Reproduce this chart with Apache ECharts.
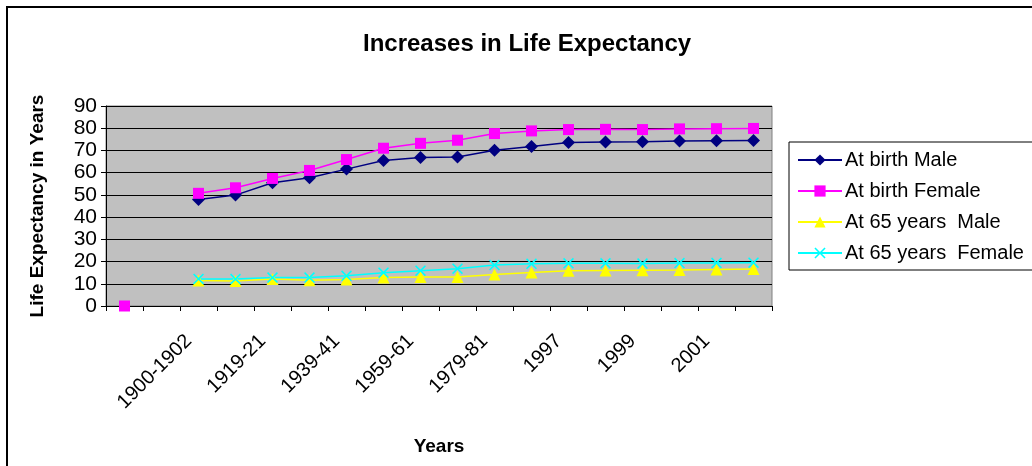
<!DOCTYPE html>
<html>
<head>
<meta charset="utf-8">
<script src="https://cdn.jsdelivr.net/npm/echarts@6/dist/echarts.min.js"></script>
<style>
  html, body { margin: 0; padding: 0; background: #fff; }
  #chart { width: 1032px; height: 466px; }
</style>
</head>
<body>
<div id="chart"></div>
<script>
// categories (first two slots are blank in the original sheet)
var years = [' ', '  ', '1900-1902', '1909-11', '1919-21', '1929-31', '1939-41', '1949-51',
  '1959-61', '1969-71', '1979-81', '1989-91', '1997', '1998', '1999', '2000', '2001', '2002'];

var birthMale = [null, null, 47.9, 49.9, 55.5, 57.7, 61.6, 65.5, 66.8, 67.0, 70.1, 71.8,
  73.6, 73.8, 73.9, 74.3, 74.4, 74.5];
var birthFemale = [0, null, 50.7, 53.2, 57.4, 61.0, 65.9, 71.0, 73.2, 74.6, 77.6, 78.8,
  79.4, 79.5, 79.4, 79.7, 79.8, 79.9];
var at65Male = [null, null, 11.5, 11.2, 12.2, 11.6, 11.9, 12.8, 13.0, 13.0, 14.2, 15.1,
  15.9, 16.0, 16.1, 16.2, 16.4, 16.6];
var at65Female = [null, null, 12.2, 12.1, 12.8, 12.8, 13.6, 15.0, 15.9, 16.8, 18.4, 19.0,
  19.2, 19.2, 19.1, 19.3, 19.4, 19.5];

var yTicks = { min: 0, max: 90, interval: 10 };

var xMark = 'path://M0,1 L1,0 L5,4 L9,0 L10,1 L6,5 L10,9 L9,10 L5,6 L1,10 L0,9 L4,5 Z';

var font = 'Arial, "Liberation Sans", sans-serif';

function line(name, data, color, symbol, size) {
  return {
    name: name,
    type: 'line',
    data: data,
    symbol: symbol,
    symbolSize: size,
    showAllSymbol: true,
    connectNulls: false,
    lineStyle: { color: color, width: 1.5 },
    itemStyle: { color: color },
    emphasis: { disabled: true },
    animation: false
  };
}

var chart = echarts.init(document.getElementById('chart'), null, { renderer: 'canvas' });

chart.setOption({
  backgroundColor: '#fff',
  animation: false,
  textStyle: { fontFamily: font },
  graphic: [{
    type: 'rect',
    shape: { x: 7, y: 7, width: 1100, height: 500 },
    style: { fill: 'none', stroke: '#000', lineWidth: 2 },
    silent: true
  }],
  title: {
    text: 'Increases in Life Expectancy',
    left: 358,
    top: 27,
    textStyle: { fontFamily: font, fontSize: 24, fontWeight: 'bold', color: '#000' }
  },
  legend: {
    orient: 'vertical',
    left: 789,
    top: 142,
    padding: [8, 12, 7, 8],
    itemGap: 11,
    itemWidth: 44,
    itemHeight: 14,
    borderColor: '#000',
    borderWidth: 1,
    borderRadius: 0,
    textStyle: { fontFamily: font, fontSize: 20, color: '#000', padding: [0, 0, 0, -2] },
    data: ['At birth Male', 'At birth Female', 'At 65 years  Male', 'At 65 years  Female']
  },
  grid: {
    left: 106,
    right: 260,
    top: 106,
    bottom: 160,
    show: true,
    backgroundColor: '#C0C0C0',
    borderColor: '#808080',
    borderWidth: 1
  },
  xAxis: {
    type: 'category',
    data: years,
    boundaryGap: true,
    name: 'Years',
    nameLocation: 'middle',
    nameGap: 131,
    nameTextStyle: { fontFamily: font, fontSize: 19, fontWeight: 'bold', color: '#000' },
    axisLine: { lineStyle: { color: '#000', width: 1 } },
    axisTick: { show: true, interval: 0, length: 5, lineStyle: { color: '#000' } },
    axisLabel: {
      interval: 1,
      rotate: 45,
      margin: 22,
      padding: [0, 14, 0, 0],
      fontFamily: font,
      fontSize: 20,
      color: '#000'
    },
    splitLine: { show: false }
  },
  yAxis: {
    type: 'value',
    min: yTicks.min,
    max: yTicks.max,
    interval: yTicks.interval,
    name: 'Life Expectancy in Years',
    nameLocation: 'middle',
    nameGap: 59,
    nameTextStyle: { fontFamily: font, fontSize: 19, fontWeight: 'bold', color: '#000' },
    axisLine: { show: true, lineStyle: { color: '#000', width: 1 } },
    axisTick: { show: true, length: 5, lineStyle: { color: '#000' } },
    axisLabel: { margin: 9, fontFamily: font, fontSize: 21, color: '#000' },
    splitLine: { show: true, lineStyle: { color: '#000', width: 1 } }
  },
  series: [
    line('At birth Male', birthMale, '#000080', 'diamond', 13),
    line('At birth Female', birthFemale, '#FF00FF', 'rect', 11),
    line('At 65 years  Male', at65Male, '#FFFF00', 'triangle', 12),
    line('At 65 years  Female', at65Female, '#00FFFF', xMark, 11)
  ]
});
</script>
</body>
</html>
